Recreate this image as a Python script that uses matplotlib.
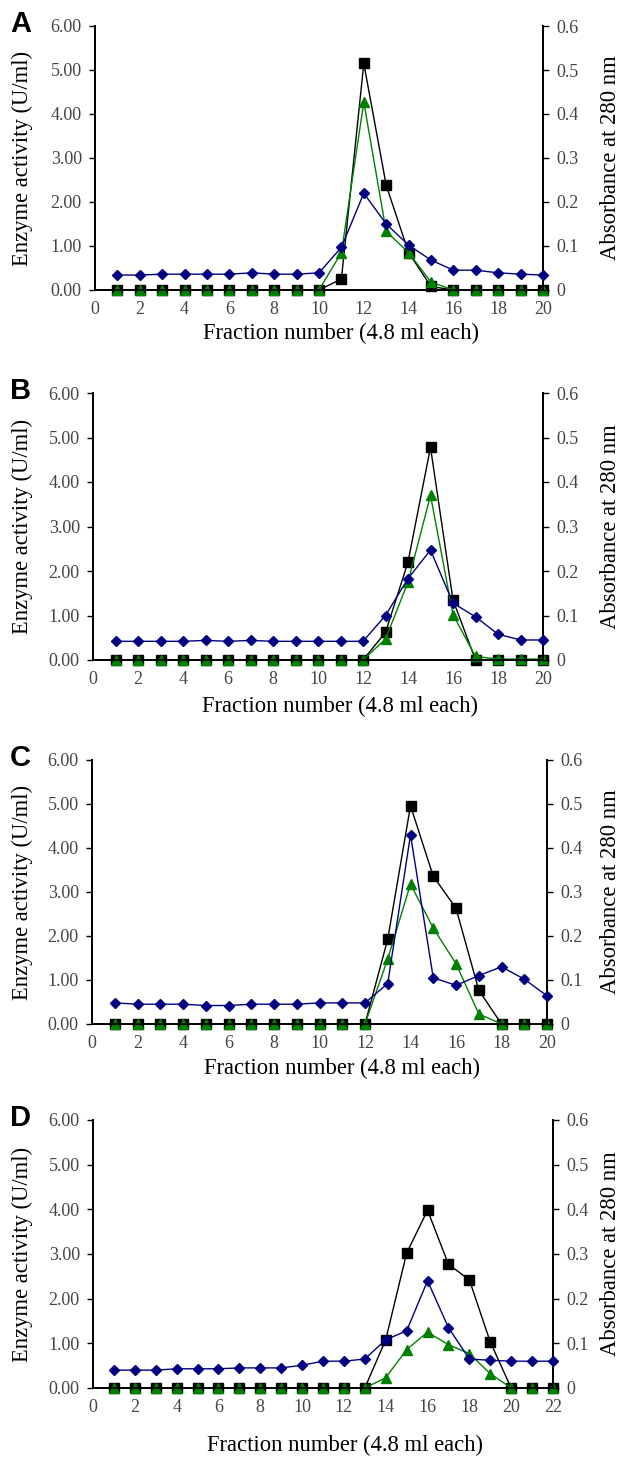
import numpy as np
import matplotlib
matplotlib.use("Agg")
import matplotlib.pyplot as plt
from matplotlib.ticker import FixedLocator, FormatStrFormatter

plt.rcParams['font.family'] = ['Liberation Serif', 'DejaVu Serif']

# ----------------------------------------------------------
# Data read from the four elution profiles
# squares / triangles: left axis (U/ml), diamonds: right axis (A280)
# ----------------------------------------------------------
panel_letters = ["A", "B", "C", "D"]

frac_a = list(range(1, 21))
sq_a = [0, 0, 0, 0, 0, 0, 0, 0, 0, 0, 0.25, 5.15, 2.38, 0.85, 0.08, 0, 0, 0, 0, 0]
tri_a = [0, 0, 0, 0, 0, 0, 0, 0, 0, 0, 0.85, 4.27, 1.33, 0.85, 0.18, 0, 0, 0, 0, 0]
dia_a = [0.034, 0.034, 0.036, 0.036, 0.036, 0.036, 0.039, 0.036, 0.036, 0.039,
         0.097, 0.220, 0.150, 0.102, 0.068, 0.045, 0.045, 0.039, 0.036, 0.034]

frac_b = list(range(1, 21))
sq_b = [0, 0, 0, 0, 0, 0, 0, 0, 0, 0, 0, 0, 0.62, 2.20, 4.78, 1.35, 0, 0, 0, 0]
tri_b = [0, 0, 0, 0, 0, 0, 0, 0, 0, 0, 0, 0, 0.47, 1.75, 3.70, 1.02, 0.08, 0.02, 0.02, 0.02]
dia_b = [0.042, 0.042, 0.042, 0.042, 0.044, 0.042, 0.044, 0.042, 0.042, 0.042,
         0.042, 0.042, 0.100, 0.183, 0.247, 0.128, 0.097, 0.058, 0.045, 0.045]

frac_c = list(range(1, 21))
sq_c = [0, 0, 0, 0, 0, 0, 0, 0, 0, 0, 0, 0, 1.93, 4.96, 3.36, 2.63, 0.77, 0, 0, 0]
tri_c = [0, 0, 0, 0, 0, 0, 0, 0, 0, 0, 0, 0, 1.48, 3.18, 2.18, 1.37, 0.23, 0, 0, 0]
dia_c = [0.048, 0.045, 0.045, 0.045, 0.042, 0.042, 0.045, 0.045, 0.045, 0.048,
         0.048, 0.048, 0.092, 0.430, 0.105, 0.088, 0.110, 0.130, 0.102, 0.064]

frac_d = list(range(1, 23))
sq_d = [0, 0, 0, 0, 0, 0, 0, 0, 0, 0, 0, 0, 0, 1.08, 3.02, 3.98, 2.77, 2.42, 1.03, 0, 0, 0]
tri_d = [0, 0, 0, 0, 0, 0, 0, 0, 0, 0, 0, 0, 0, 0.23, 0.86, 1.25, 0.97, 0.77, 0.32, 0, 0, 0]
dia_d = [0.040, 0.040, 0.040, 0.043, 0.043, 0.043, 0.045, 0.045, 0.045, 0.051, 0.060,
         0.060, 0.065, 0.108, 0.128, 0.240, 0.135, 0.065, 0.062, 0.060, 0.060, 0.060]

left_ticks = [0, 1, 2, 3, 4, 5, 6]
right_ticks = [0, 0.1, 0.2, 0.3, 0.4, 0.5, 0.6]
right_tick_labels = ["0", "0.1", "0.2", "0.3", "0.4", "0.5", "0.6"]

panels = [
    (frac_a, sq_a, tri_a, dia_a, 20),
    (frac_b, sq_b, tri_b, dia_b, 20),
    (frac_c, sq_c, tri_c, dia_c, 20),
    (frac_d, sq_d, tri_d, dia_d, 22),
]

# axes boxes in pixels: (left, right, top, bottom, xlabel_y)
W, H = 624, 1457
boxes = [
    (95, 543, 26, 290, 333),
    (93, 543, 393, 660, 706),
    (92, 547, 760, 1024, 1068),
    (93, 553, 1120, 1388, 1445),
]

fig = plt.figure(figsize=(W / 100, H / 100), dpi=100)

tick_color = "#444444"
label_size = 16.3
for letter, (frac, sq, tri, dia, xmax), (l, r, t, b, xl_y) in zip(panel_letters, panels, boxes):
    ax = fig.add_axes([l / W, 1 - b / H, (r - l) / W, (b - t) / H])
    ax2 = ax.twinx()

    ax.plot(frac, sq, color="black", marker="s", markersize=6.5, lw=1, clip_on=False, zorder=3)
    ax.plot(frac, tri, color="green", marker="^", markersize=7.5, lw=1, clip_on=False, zorder=4)
    ax2.plot(frac, dia, color="navy", marker="D", markersize=5.2, lw=1, clip_on=False, zorder=5)

    ax.set_xlim(0, xmax)
    ax.set_ylim(0, 6)
    ax2.set_ylim(0, 0.6)
    ax.set_xticks(np.arange(0, xmax + 1, 2))
    ax.set_yticks(left_ticks)
    ax.yaxis.set_major_formatter(FormatStrFormatter("%.2f"))
    ax2.yaxis.set_major_locator(FixedLocator(right_ticks))
    ax2.set_yticklabels(right_tick_labels)

    for a in (ax, ax2):
        a.spines["top"].set_visible(False)
        for s in a.spines.values():
            s.set_linewidth(1.3)
        a.tick_params(direction="out", length=4.5, width=1, labelsize=13,
                      labelcolor=tick_color, pad=5)
    ax.tick_params(axis="x", length=0, pad=8)

    # y labels pinned to fixed figure x positions
    ax.set_ylabel("Enzyme activity (U/ml)", fontsize=label_size, va="center")
    ax2.set_ylabel("Absorbance at 280 nm", fontsize=label_size, va="center")
    ax.yaxis.set_label_coords((22 - l) / (r - l), 0.5)
    ax2.yaxis.set_label_coords((611 - l) / (r - l), 0.5)

    fig.text(((l + r) / 2 + 22) / W, 1 - xl_y / H, "Fraction number (4.8 ml each)",
             fontsize=label_size, ha="center", va="center")
    fig.text(10 / W, 1 - (t - 2) / H, letter, fontsize=21, fontweight="bold",
             family="Liberation Sans", ha="left", va="center")

fig.savefig("out.png", dpi=100)
